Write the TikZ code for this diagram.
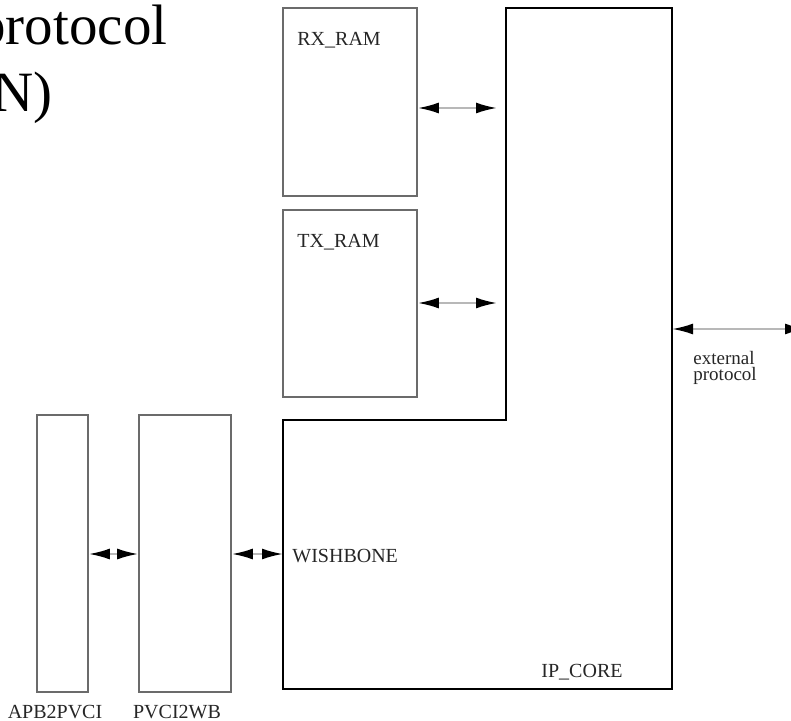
\documentclass[tikz,border=0pt]{standalone}
\usepackage{fontspec}
\setmainfont{Liberation Serif}
\usetikzlibrary{arrows.meta}
\definecolor{boxgray}{gray}{0.42}
\definecolor{linkgray}{gray}{0.72}

\begin{document}
\begin{tikzpicture}[x=0.5pt, y=-0.5pt,
    block/.style={draw=boxgray, line width=0.8pt, rectangle, inner sep=0pt},
    core/.style={draw=black, line width=1pt},
    link/.style={draw=linkgray, line width=1.1pt,
        {Latex[black,length=10.5pt,width=5.5pt]}-{Latex[black,length=10.5pt,width=5.5pt]}},
    tag/.style={font=\fontsize{10}{12}\selectfont, inner sep=0pt, text=black!85},
    small/.style={font=\fontsize{9.5}{8}\selectfont, inner sep=0pt, text=black!85, align=left}]
    \useasboundingbox (0,0) rectangle (791,721);

    % Title left over from the slide
    \node[anchor=base west, inner sep=0pt, font=\fontsize{28.5}{34}\selectfont] (title1) at (-23,45) {protocol};
    \node[anchor=base west, inner sep=0pt, font=\fontsize{28.5}{34}\selectfont] (title2) at (-8,112) {N)};

    % Define nodes
    \node[block, minimum width=67pt, minimum height=94pt] (rx) at (350,102) {};
    \node[block, minimum width=67pt, minimum height=93.5pt] (tx) at (350,303.5) {};
    \node[block, minimum width=25.5pt, minimum height=138.5pt] (apb) at (62.5,553.5) {};
    \node[block, minimum width=46pt, minimum height=138.5pt] (pvci) at (185,553.5) {};

    \node[tag, anchor=base west] (rxname) at (297,46) {RX\_RAM};
    \node[tag, anchor=base west] (txname) at (297,248) {TX\_RAM};
    \node[tag, anchor=base] (apbname) at (55,718) {APB2PVCI};
    \node[tag, anchor=base] (pvciname) at (177,718) {PVCI2WB};

    % IP core outline
    \draw[core] (506,8) -- (672,8) -- (672,689) -- (283,689) -- (283,420) -- (506,420) -- cycle;
    \node[tag, anchor=base] (ipname) at (582,677) {IP\_CORE};
    \node[tag, anchor=base west] (wbname) at (292,562) {WISHBONE};
    \node[small, anchor=base west] (extname) at (693,380) {external\\protocol};

    % Ports on the core
    \coordinate (rxport) at (497,108);
    \coordinate (txport) at (497,303);
    \coordinate (wbport) at (283,554);
    \coordinate (extin) at (672,329);
    \coordinate (extout) at (806,329);

    % Draw edges
    \draw[link] (rx.east |- rxport) -- (rxport);
    \draw[link] (tx.east |- txport) -- (txport);
    \draw[link] (apb.east |- wbport) -- (pvci.west |- wbport);
    \draw[link] (pvci.east |- wbport) -- (wbport);
    \draw[link] (extin) -- (extout);

\end{tikzpicture}
\end{document}
